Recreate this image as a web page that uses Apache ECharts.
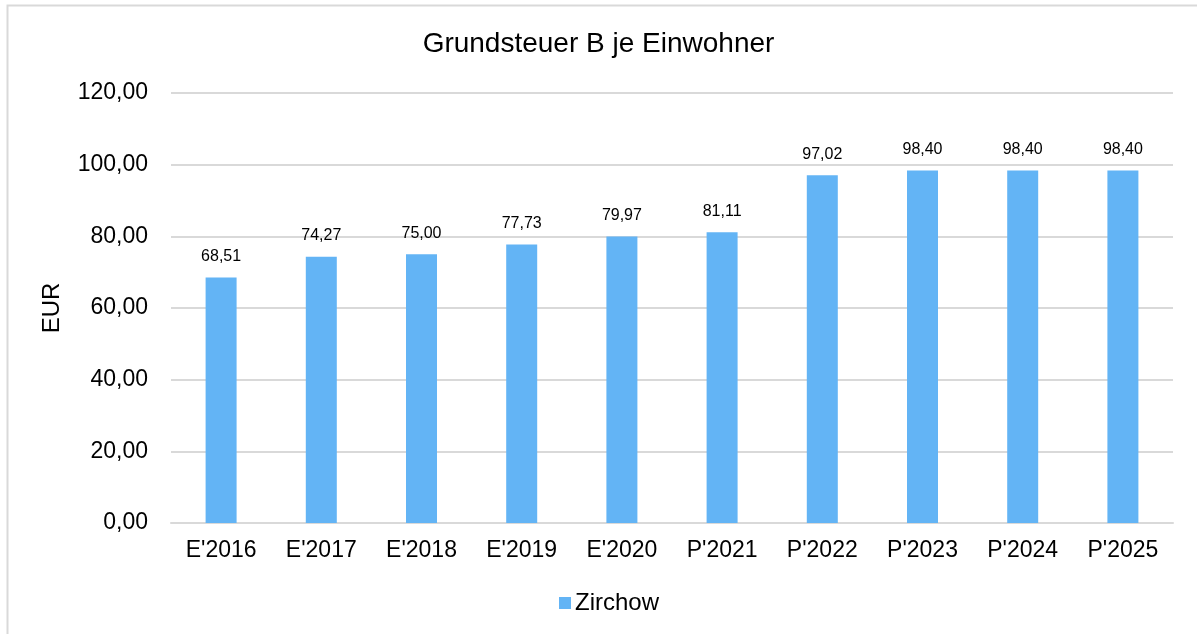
<!DOCTYPE html>
<html>
<head>
<meta charset="utf-8">
<script src="https://cdn.jsdelivr.net/npm/echarts@6/dist/echarts.min.js"></script>
<style>
  html, body { margin: 0; padding: 0; background: #fff; }
  #main { width: 1197px; height: 634px; }
</style>
</head>
<body>
<div id="main"></div>
<script>
let chart = echarts.init(document.getElementById("main"));

// 數據
let years = ["E'2016", "E'2017", "E'2018", "E'2019", "E'2020", "P'2021", "P'2022", "P'2023", "P'2024", "P'2025"];
let zirchow = [68.51, 74.27, 75.00, 77.73, 79.97, 81.11, 97.02, 98.40, 98.40, 98.40];

let fontName = "Liberation Sans";
let fmt = (v) => Number(v).toFixed(2).replace(".", ",");

let option = {
    textStyle: { fontFamily: fontName },
    graphic: [
        {
            type: "rect",
            shape: { x: 7.5, y: 5.5, width: 1200, height: 640 },
            style: { fill: "none", stroke: "#d9d9d9", lineWidth: 2 },
            silent: true
        }
    ],
    title: {
        text: "Grundsteuer B je Einwohner",
        left: "center",
        top: 25,
        textStyle: { fontFamily: fontName, fontSize: 28, fontWeight: "normal", color: "#000" }
    },
    legend: {
        data: ["Zirchow"],
        bottom: 14,
        left: 554,
        icon: "rect",
        itemWidth: 12,
        itemHeight: 12,
        itemGap: 4,
        textStyle: { fontFamily: fontName, fontSize: 24, color: "#000", padding: [0, 0, 0, -1] }
    },
    grid: { left: 171, right: 24, top: 93, bottom: 111 },
    xAxis: {
        type: "category",
        data: years,
        axisTick: { show: false },
        axisLine: { lineStyle: { color: "#d9d9d9", width: 2 } },
        axisLabel: { fontFamily: fontName, fontSize: 23, color: "#000", margin: 16 }
    },
    yAxis: {
        type: "value",
        name: "EUR",
        nameLocation: "middle",
        nameGap: 107,
        nameRotate: 90,
        nameTextStyle: { fontFamily: fontName, fontSize: 24, color: "#000" },
        min: 0,
        max: 120,
        interval: 20,
        axisLine: { show: false },
        axisTick: { show: false },
        splitLine: { lineStyle: { color: "#d9d9d9", width: 2 } },
        axisLabel: { fontFamily: fontName, fontSize: 23, color: "#000", margin: 23, formatter: fmt }
    },
    series: [
        {
            name: "Zirchow",
            type: "bar",
            data: zirchow,
            barWidth: 31,
            itemStyle: { color: "#63b4f5" },
            label: {
                show: true,
                position: "top",
                distance: 13,
                fontFamily: fontName,
                fontSize: 16,
                color: "#000",
                formatter: (p) => fmt(p.value)
            }
        }
    ]
};

chart.setOption(option);
</script>
</body>
</html>
